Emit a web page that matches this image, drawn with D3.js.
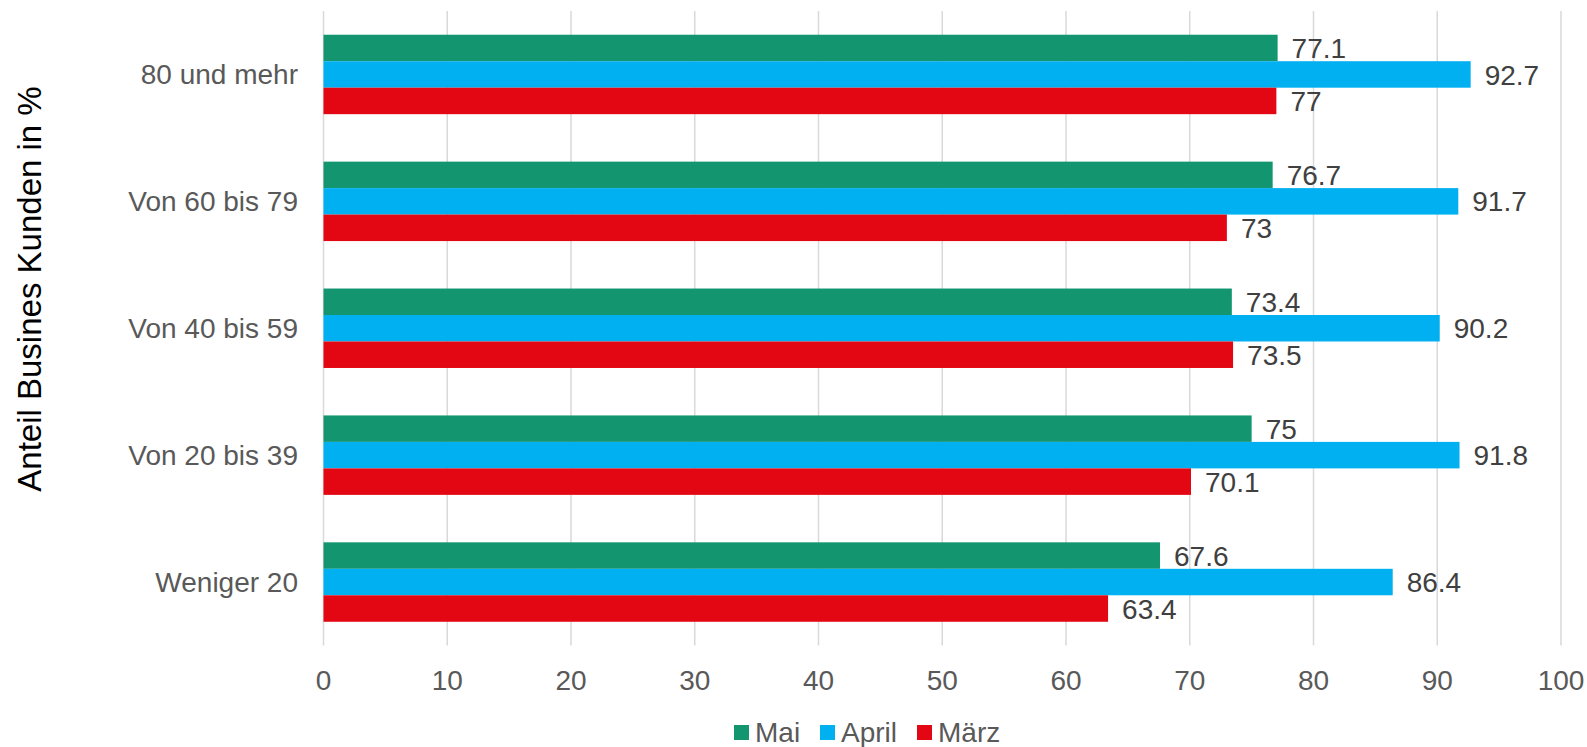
<!DOCTYPE html>
<html>
<head>
<meta charset="utf-8">
<script src="https://cdn.jsdelivr.net/npm/d3@7"></script>
<style>
  html, body { margin: 0; padding: 0; background: #fff; }
  svg { display: block; font-family: "Liberation Sans", Arial, sans-serif; }
</style>
</head>
<body>
<svg id="chart" width="1587" height="747"></svg>
<script>
const categories = ["80 und mehr", "Von 60 bis 79", "Von 40 bis 59", "Von 20 bis 39", "Weniger 20"];
const seriesNames = ["Mai", "April", "März"];
const seriesColors = ["#139670", "#00B0F0", "#E30613"];
const maiValues   = [77.1, 76.7, 73.4, 75, 67.6];
const aprilValues = [92.7, 91.7, 90.2, 91.8, 86.4];
const maerzValues = [77, 73, 73.5, 70.1, 63.4];
const xTicks = [0, 10, 20, 30, 40, 50, 60, 70, 80, 90, 100];
const yTitle = "Anteil Busines Kunden in %";

const seriesValues = [maiValues, aprilValues, maerzValues];

(function () {
const svg = d3.select("#chart");
const pLeft = 323.5, pRight = 1561, pTop = 11, pBottom = 645.5;
const fs = 28;

const x = d3.scaleLinear().domain([0, 100]).range([pLeft, pRight]);
const y = d3.scaleBand().domain(categories).range([pTop, pBottom])
  .paddingInner(0.374).paddingOuter(0.187);
const ySub = d3.scaleBand().domain(seriesNames).range([0, y.bandwidth()]).padding(0);

// gridlines
svg.append("g").selectAll("line").data(xTicks).join("line")
  .attr("x1", d => x(d)).attr("x2", d => x(d))
  .attr("y1", pTop).attr("y2", pBottom)
  .attr("stroke", "#d9d9d9").attr("stroke-width", 1.5);

// x tick labels
svg.append("g").selectAll("text").data(xTicks).join("text")
  .attr("x", d => x(d)).attr("y", 690)
  .attr("text-anchor", "middle")
  .attr("font-size", fs).attr("fill", "#595959")
  .text(d => d);

// category labels
svg.append("g").selectAll("text").data(categories).join("text")
  .attr("x", 298).attr("y", d => y(d) + y.bandwidth() / 2)
  .attr("dy", "0.35em")
  .attr("text-anchor", "end")
  .attr("font-size", fs).attr("fill", "#595959")
  .text(d => d);

// bars
const rows = [];
categories.forEach((c, i) => {
  seriesNames.forEach((s, j) => rows.push({ cat: c, series: s, value: seriesValues[j][i], color: seriesColors[j] }));
});

svg.append("g").selectAll("rect").data(rows).join("rect")
  .attr("x", x(0))
  .attr("y", d => y(d.cat) + ySub(d.series))
  .attr("width", d => x(d.value) - x(0))
  .attr("height", ySub.bandwidth())
  .attr("fill", d => d.color);

// data labels
svg.append("g").selectAll("text").data(rows).join("text")
  .attr("x", d => x(d.value) + 14)
  .attr("y", d => y(d.cat) + ySub(d.series) + ySub.bandwidth() / 2)
  .attr("dy", "0.36em")
  .attr("font-size", fs).attr("fill", "#404040")
  .text(d => d.value);

// y axis title
svg.append("text")
  .attr("transform", "translate(41,289) rotate(-90)")
  .attr("text-anchor", "middle")
  .attr("font-size", 33).attr("fill", "#000")
  .text(yTitle);

// legend
const legendX = [734, 820, 917];
const lg = svg.append("g").selectAll("g").data(seriesNames).join("g")
  .attr("transform", (d, i) => `translate(${legendX[i]},0)`);
lg.append("rect").attr("x", 0).attr("y", 725).attr("width", 15).attr("height", 15)
  .attr("fill", (d, i) => seriesColors[i]);
lg.append("text").attr("x", 21).attr("y", 742)
  .attr("font-size", fs).attr("fill", "#595959")
  .text(d => d);
})();
</script>
</body>
</html>
